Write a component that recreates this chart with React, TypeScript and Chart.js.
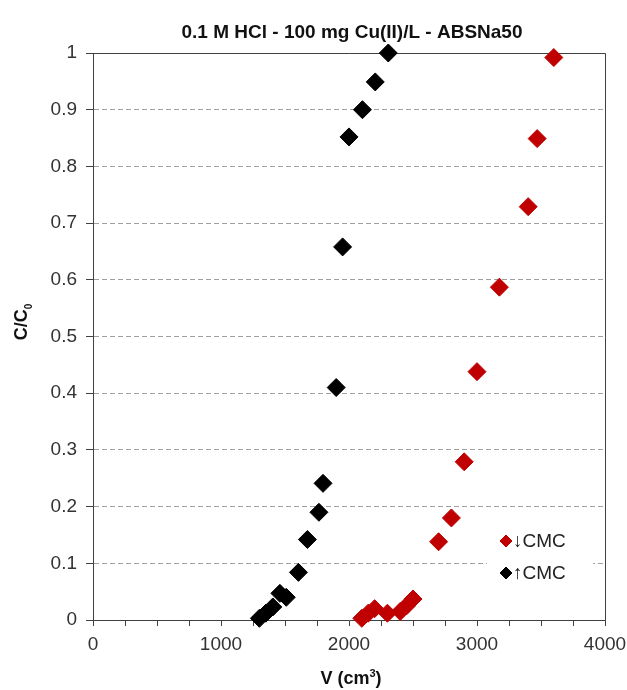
import { useEffect, useRef } from 'react';
import { Chart, registerables } from 'chart.js';
Chart.register(...registerables);

const chartTitle = '0.1 M HCl - 100 mg Cu(II)/L - ABSNa50';
const xTitleMain = 'V (cm';
const xTitleSup = '3';
const xTitleEnd = ')';
const yTitleMain = 'C/C';
const yTitleSub = '0';
const seriesLabels = ['↓CMC', '↑CMC'];
const seriesColors = ['#c00000', '#000000'];

const redX = [2100, 2150, 2200, 2300, 2400, 2450, 2500, 2700, 2800, 2900, 3000, 3175, 3400, 3470, 3600];
const redY = [0.003, 0.012, 0.02, 0.012, 0.015, 0.025, 0.037, 0.138, 0.18, 0.279, 0.438, 0.587, 0.729, 0.849, 0.992];
const blackX = [1300, 1350, 1405, 1460, 1510, 1605, 1675, 1765, 1797, 1900, 1950, 2000, 2105, 2205, 2307];
const blackY = [0.003, 0.012, 0.023, 0.047, 0.04, 0.084, 0.142, 0.19, 0.241, 0.41, 0.658, 0.852, 0.9, 0.949, 1.0];

const xTickLabels = ['0', '1000', '2000', '3000', '4000'];
const yTickLabels = ['0', '0.1', '0.2', '0.3', '0.4', '0.5', '0.6', '0.7', '0.8', '0.9', '1'];

const FONT = '"Liberation Sans", Arial, sans-serif';

const decor = {
  id: 'decor',
  beforeDatasetsDraw(chart: any) {
    const { ctx, chartArea: a } = chart;
    ctx.save();
    ctx.strokeStyle = '#404040';
    ctx.lineWidth = 1;
    ctx.beginPath();
    const t = Math.round(a.top) + 0.5;
    const r = Math.round(a.right) + 0.5;
    ctx.moveTo(Math.round(a.left), t);
    ctx.lineTo(r, t);
    ctx.lineTo(r, Math.round(a.bottom) + 1);
    ctx.stroke();
    ctx.restore();
  },
  afterDatasetsDraw(chart: any) {
    const { ctx, chartArea: a } = chart;
    ctx.save();
    const bx = a.right - 118;
    const by = a.bottom - 95;
    ctx.fillStyle = '#ffffff';
    ctx.fillRect(bx, by, 106, 66);
    chart.data.datasets.forEach((ds: any, i: number) => {
      const cy = a.bottom - 79 + i * 32;
      const cx = a.right - 99;
      const rr = 6;
      ctx.fillStyle = ds.backgroundColor;
      ctx.strokeStyle = ds.backgroundColor;
      ctx.lineWidth = 1;
      ctx.beginPath();
      ctx.moveTo(cx - rr, cy);
      ctx.lineTo(cx, cy - rr);
      ctx.lineTo(cx + rr, cy);
      ctx.lineTo(cx, cy + rr);
      ctx.closePath();
      ctx.fill();
      ctx.stroke();
      ctx.fillStyle = '#222';
      ctx.font = `19px ${FONT}`;
      ctx.textBaseline = 'middle';
      ctx.textAlign = 'left';
      ctx.fillText(ds.label, cx + 7, cy + 1);
    });
    ctx.restore();
  },
  afterDraw(chart: any) {
    const { ctx, chartArea: a } = chart;
    ctx.save();
    ctx.fillStyle = '#111';
    // main title
    ctx.font = `bold 19px ${FONT}`;
    ctx.textAlign = 'center';
    ctx.textBaseline = 'alphabetic';
    ctx.fillText(chartTitle, (a.left + a.right) / 2 + 3, 38);
    // x title
    ctx.textAlign = 'left';
    ctx.font = `bold 18px ${FONT}`;
    const w1 = ctx.measureText(xTitleMain).width;
    const w3 = ctx.measureText(xTitleEnd).width;
    ctx.font = `bold 11px ${FONT}`;
    const w2 = ctx.measureText(xTitleSup).width;
    const total = w1 + w2 + w3;
    let x0 = (a.left + a.right) / 2 + 2 - total / 2;
    const yb = 684;
    ctx.font = `bold 18px ${FONT}`;
    ctx.fillText(xTitleMain, x0, yb);
    ctx.font = `bold 11px ${FONT}`;
    ctx.fillText(xTitleSup, x0 + w1, yb - 7);
    ctx.font = `bold 18px ${FONT}`;
    ctx.fillText(xTitleEnd, x0 + w1 + w2, yb);
    // y title
    ctx.translate(27, 322);
    ctx.rotate(-Math.PI / 2);
    ctx.font = `bold 18px ${FONT}`;
    const m1 = ctx.measureText(yTitleMain).width;
    ctx.font = `bold 10px ${FONT}`;
    const m2 = ctx.measureText(yTitleSub).width;
    const sx = -(m1 + m2) / 2;
    ctx.font = `bold 18px ${FONT}`;
    ctx.fillText(yTitleMain, sx, 0);
    ctx.font = `bold 10px ${FONT}`;
    ctx.fillText(yTitleSub, sx + m1, 5);
    ctx.restore();
  },
};

export default function App() {
  const ref = useRef<HTMLCanvasElement | null>(null);
  useEffect(() => {
    document.body.style.margin = '0';
    const canvas = ref.current;
    if (!canvas) return;
    const toPts = (xs: number[], ys: number[]) => xs.map((x, i) => ({ x, y: ys[i] }));
    const chart = new Chart(canvas, {
      type: 'scatter',
      data: {
        datasets: [
          {
            label: seriesLabels[0],
            data: toPts(redX, redY),
            backgroundColor: seriesColors[0],
            borderColor: seriesColors[0],
            pointStyle: 'rectRot',
            pointRadius: 9,
            pointHoverRadius: 9,
            borderWidth: 1,
            clip: false,
          },
          {
            label: seriesLabels[1],
            data: toPts(blackX, blackY),
            backgroundColor: seriesColors[1],
            borderColor: seriesColors[1],
            pointStyle: 'rectRot',
            pointRadius: 9,
            pointHoverRadius: 9,
            borderWidth: 1,
            clip: false,
          },
        ],
      },
      options: {
        animation: false,
        responsive: true,
        maintainAspectRatio: false,
        layout: { padding: { left: 0, top: 53, right: 22, bottom: 0 } },
        plugins: {
          legend: { display: false },
          title: { display: false },
          tooltip: { enabled: false },
        },
        scales: {
          x: {
            type: 'linear',
            min: 0,
            max: 4000,
            afterFit: (s: any) => {
              s.height = 70;
              s.paddingLeft = 0;
              s.paddingRight = 0;
            },
            ticks: {
              stepSize: 250,
              autoSkip: false,
              maxRotation: 0,
              padding: 7,
              color: '#333',
              font: { size: 19, family: FONT },
              callback: (v: any) => (xTickLabels.includes(String(v)) ? String(v) : ''),
            },
            grid: {
              drawOnChartArea: false,
              color: '#404040',
              tickColor: '#404040',
              tickLength: 6,
            },
            border: { display: true, color: '#404040', width: 1 },
          },
          y: {
            type: 'linear',
            min: 0,
            max: 1,
            afterFit: (s: any) => {
              s.width = 93;
              s.paddingTop = 0;
              s.paddingBottom = 0;
            },
            ticks: {
              stepSize: 0.1,
              padding: 9,
              color: '#333',
              font: { size: 19, family: FONT },
              callback: (_v: any, i: number) => yTickLabels[i] ?? '',
            },
            grid: {
              color: '#a0a0a0',
              tickColor: '#404040',
              tickLength: 7,
              tickBorderDash: [],
            },
            border: { display: true, color: '#404040', width: 1, dash: [5, 3] },
          },
        },
      },
      plugins: [decor],
    });
    return () => chart.destroy();
  }, []);
  return (
    <div style={{ position: 'relative', width: '627px', height: '690px' }}>
      <canvas ref={ref} />
    </div>
  );
}
